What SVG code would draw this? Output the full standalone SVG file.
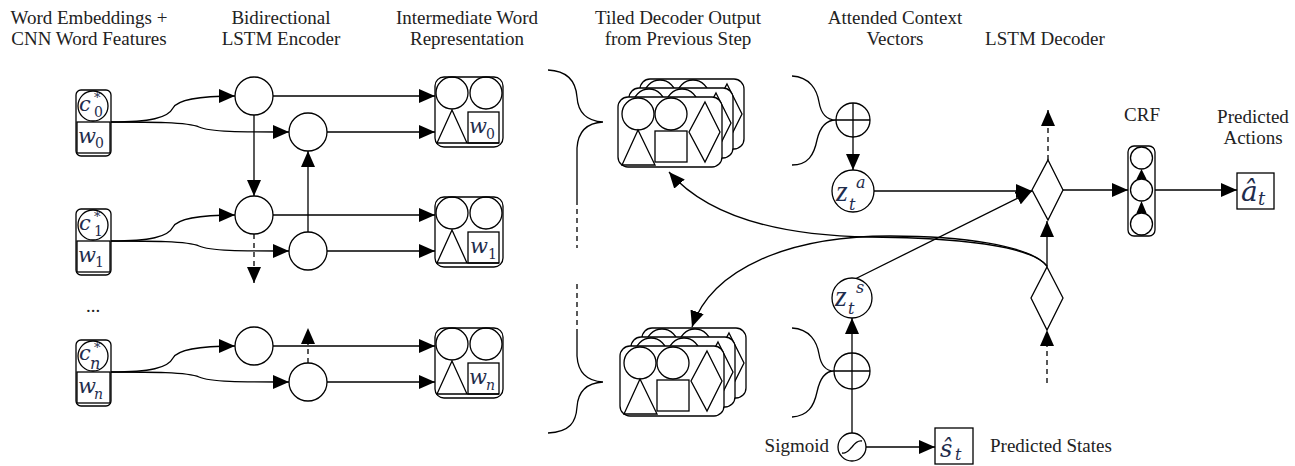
<svg xmlns="http://www.w3.org/2000/svg" width="1295" height="466" viewBox="0 0 1295 466">
<style>
.s{fill:none;stroke:#000;stroke-width:1.3}
.w{fill:#fff;stroke:#000;stroke-width:1.3}
.d{stroke-dasharray:5,4}
.t{font-family:"Liberation Serif","Times New Roman",serif;font-size:19px;fill:#222}
.m{font-family:"DejaVu Serif",serif;font-style:italic;fill:#1f2d4d}
.z{font-family:"Liberation Serif",serif;font-style:italic;fill:#1f2d4d}
.mu{font-family:"DejaVu Serif",serif;fill:#1f2d4d}
</style>
<defs>
<marker id="a" markerUnits="userSpaceOnUse" markerWidth="16" markerHeight="14" refX="16" refY="7" orient="auto"><path d="M0,0 L16,7 L0,14 Z" fill="#000"/></marker>
<g id="inbox">
<rect class="w" x="0" y="0" width="35" height="66" rx="5"/>
<circle class="s" cx="17" cy="16" r="15"/>
<rect class="s" x="1" y="32" width="33" height="31"/>
</g>
<g id="ibox">
<rect class="w" x="0" y="0" width="68" height="70" rx="9"/>
<circle class="s" cx="17" cy="16" r="16"/>
<circle class="s" cx="51" cy="16" r="16"/>
<path class="s" d="M17,33 L2,66 L32,66 Z M2,66 L64,66"/>
<rect class="s" x="33" y="35" width="31" height="31"/>
</g>
<g id="tile">
<rect class="w" x="0" y="0" width="104" height="70" rx="10"/>
<circle class="s" cx="20" cy="17" r="16"/>
<circle class="s" cx="53" cy="17" r="16"/>
<path class="s" d="M20,33 L4,68 L37,68 Z"/>
<rect class="s" x="37" y="34" width="32" height="31"/>
<path class="s" d="M87,5 L102,35 L87,65 L71,35 Z"/>
</g>
</defs>

<g id="titles" class="t" text-anchor="middle">
<text x="89" y="24">Word Embeddings +</text>
<text x="89" y="45">CNN Word Features</text>
<text x="281" y="24">Bidirectional</text>
<text x="281" y="45">LSTM Encoder</text>
<text x="467" y="24">Intermediate Word</text>
<text x="467" y="45">Representation</text>
<text x="678" y="24">Tiled Decoder Output</text>
<text x="678" y="45">from Previous Step</text>
<text x="895" y="24">Attended Context</text>
<text x="895" y="45">Vectors</text>
<text x="1045" y="45">LSTM Decoder</text>
<text x="1142" y="121">CRF</text>
<text x="1253" y="123">Predicted</text>
<text x="1253" y="144">Actions</text>
<text x="93" y="312">...</text>
<text x="990" y="452" text-anchor="start">Predicted States</text>
<text x="829" y="452" text-anchor="end">Sigmoid</text>
</g>

<g id="connectors" class="s">
<g id="enc-in-0">
<path d="M111,122 C150,122 168,118 173,108 C178,99 200,96 235,96" marker-end="url(#a)"/>
<path d="M111,122 C150,122 188,122 199,127 C210,132 240,132 289,132" marker-end="url(#a)"/>
<path d="M273,96 L435,96" marker-end="url(#a)"/>
<path d="M327,132 L435,132" marker-end="url(#a)"/>
</g>
<g transform="translate(0,119)">
<path d="M111,122 C150,122 168,118 173,108 C178,99 200,96 235,96" marker-end="url(#a)"/>
<path d="M111,122 C150,122 188,122 199,127 C210,132 240,132 289,132" marker-end="url(#a)"/>
<path d="M273,96 L435,96" marker-end="url(#a)"/>
<path d="M327,132 L435,132" marker-end="url(#a)"/>
</g>
<g transform="translate(0,250)">
<path d="M111,122 C150,122 168,118 173,108 C178,99 200,96 235,96" marker-end="url(#a)"/>
<path d="M111,122 C150,122 188,122 199,127 C210,132 240,132 289,132" marker-end="url(#a)"/>
<path d="M273,96 L435,96" marker-end="url(#a)"/>
<path d="M327,132 L435,132" marker-end="url(#a)"/>
</g>
<path d="M254,115 L254,196" marker-end="url(#a)"/>
<path d="M308,232 L308,151" marker-end="url(#a)"/>
<path class="d" d="M254,234 L254,283" marker-end="url(#a)"/>
<path class="d" d="M308,363 L308,328" marker-end="url(#a)"/>

<path d="M548,70 C570,71 576,84 577,97 C578,112 586,121 603,122 C586,123 578,132 577,148 L577,200"/>
<path class="d" d="M577,200 L577,248 M577,284 L577,330"/>
<path d="M577,330 L577,356 C578,372 586,381 603,382 C586,383 578,392 577,407 C576,422 570,432 548,433"/>
<path d="M792,76 C810,77 817,90 819,102 C821,114 826,120 836,120 C826,120 820,127 817,140 C814,155 808,165 792,165"/>
<path d="M792,328 C810,329 817,342 819,354 C821,366 826,371 834,371 C826,371 820,378 817,392 C814,406 808,416 792,417"/>

<path d="M853,137 L853,170" marker-end="url(#a)"/>
<path d="M874,191 L1032,191" marker-end="url(#a)"/>
<path d="M855,279 L1032,191" marker-end="url(#a)"/>
<path d="M852,353 L852,318" marker-end="url(#a)"/>
<path d="M852,389 L852,433"/>
<path d="M866,447 L935,447" marker-end="url(#a)"/>
<path d="M1047,266 C1030,245 960,238 870,237 C800,236 715,225 669,172" marker-end="url(#a)"/>
<path d="M1047,266 C1030,245 960,236 890,236 C790,236 712,268 692,327" marker-end="url(#a)"/>
<path d="M1047,267 L1047,221" marker-end="url(#a)"/>
<path class="d" d="M1048,160 L1048,110" marker-end="url(#a)"/>
<path class="d" d="M1047,383 L1047,330" marker-end="url(#a)"/>
<path d="M1063,190 L1128,190" marker-end="url(#a)"/>
<path d="M1155,190 L1237,190" marker-end="url(#a)"/>
</g>

<g id="input-0"><use href="#inbox" x="76" y="90"/>
<text class="m" x="79" y="111" font-size="21">c</text><text class="mu" x="94" y="102" font-size="13">*</text><text class="mu" x="94" y="117" font-size="14">0</text>
<text class="m" x="78" y="143" font-size="21">w</text><text class="mu" x="95" y="148" font-size="14">0</text></g>
<g id="input-1"><use href="#inbox" x="76" y="209"/>
<text class="m" x="79" y="230" font-size="21">c</text><text class="mu" x="94" y="221" font-size="13">*</text><text class="mu" x="94" y="236" font-size="14">1</text>
<text class="m" x="78" y="262" font-size="21">w</text><text class="mu" x="95" y="267" font-size="14">1</text></g>
<g id="input-n"><use href="#inbox" x="76" y="340"/>
<text class="m" x="79" y="360" font-size="21">c</text><text class="mu" x="94" y="352" font-size="13">*</text><text class="m" x="90" y="369" font-size="16">n</text>
<text class="m" x="78" y="393" font-size="21">w</text><text class="m" x="94" y="399" font-size="14">n</text></g>

<g id="encoder" class="w">
<circle cx="254" cy="96" r="19"/><circle cx="308" cy="132" r="19"/>
<circle cx="254" cy="215" r="19"/><circle cx="308" cy="251" r="19"/>
<circle cx="254" cy="346" r="19"/><circle cx="308" cy="382" r="19"/>
</g>

<g id="inter-0"><use href="#ibox" x="435" y="77"/>
<text class="m" x="469" y="133" font-size="21">w</text><text class="mu" x="486" y="139" font-size="14">0</text></g>
<g id="inter-1"><use href="#ibox" x="435" y="197"/>
<text class="m" x="470" y="253" font-size="21">w</text><text class="mu" x="488" y="259" font-size="14">1</text></g>
<g id="inter-n"><use href="#ibox" x="435" y="328"/>
<text class="m" x="469" y="384" font-size="21">w</text><text class="m" x="486" y="390" font-size="14">n</text></g>

<g id="tiles-top"><use href="#tile" x="640" y="79"/><use href="#tile" x="629" y="88"/><use href="#tile" x="618" y="97"/></g>
<g id="tiles-bottom"><use href="#tile" x="642" y="328"/><use href="#tile" x="631" y="337"/><use href="#tile" x="620" y="346"/></g>

<g id="sum-a" class="s"><circle class="w" cx="853" cy="120" r="17"/><path d="M836,120 L870,120 M853,103 L853,137"/></g>
<g id="sum-s" class="s"><circle class="w" cx="852" cy="371" r="18"/><path d="M834,371 L870,371 M852,353 L852,389"/></g>

<g id="za"><circle class="w" cx="853" cy="191" r="21"/>
<text class="z" x="836" y="201" font-size="30">z</text><text class="m" x="856" y="188" font-size="16">a</text><text class="m" x="849" y="210" font-size="16">t</text></g>
<g id="zs"><circle class="w" cx="852" cy="298" r="20"/>
<text class="z" x="835" y="306" font-size="30">z</text><text class="m" x="856" y="293" font-size="16">s</text><text class="m" x="848" y="314" font-size="16">t</text></g>

<g id="sigmoid"><circle class="w" cx="852" cy="447" r="14"/><path class="s" d="M842,453 C847,454 849,450 852,447 C855,443 858,440 862,441"/></g>
<g id="s-hat"><rect class="w" x="935" y="428" width="38" height="36"/>
<text class="m" x="940" y="457" font-size="24">ŝ</text><text class="m" x="955" y="460" font-size="16">t</text></g>

<g id="dec-top"><path class="w" d="M1048,160 L1063,190 L1048,220 L1032,190 Z"/></g>
<g id="dec-bottom"><path class="w" d="M1047,267 L1063,298 L1047,330 L1031,298 Z"/></g>

<g id="crf"><rect class="w" x="1128" y="146" width="27" height="90" rx="6"/>
<circle class="s" cx="1141.5" cy="158" r="11"/><circle class="s" cx="1141.5" cy="190" r="11"/><circle class="s" cx="1141.5" cy="224" r="11"/>
<path d="M1141.5,169 L1146.5,179 L1136.5,179 Z M1141.5,201 L1146.5,213 L1136.5,213 Z" fill="#000"/></g>

<g id="a-hat"><rect class="w" x="1237" y="173" width="37" height="36"/>
<text class="m" x="1241" y="201" font-size="28">â</text><text class="m" x="1258" y="205" font-size="18">t</text></g>
</svg>
